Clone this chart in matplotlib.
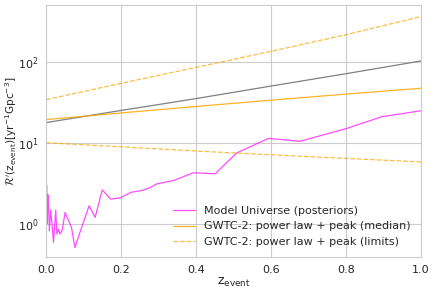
import numpy as np
import matplotlib
matplotlib.use("Agg")
import matplotlib.pyplot as plt
import seaborn as sns

sns.set_style("whitegrid")
plt.rcParams['font.family'] = ['DejaVu Sans']
plt.rcParams['mathtext.fontset'] = 'dejavusans'

# Model universe (posteriors) rate curve
z_model = [0.002, 0.0035, 0.0045, 0.006, 0.009, 0.0125, 0.016, 0.02, 0.026, 0.029,
           0.034, 0.037, 0.043, 0.051, 0.068, 0.077, 0.092, 0.115, 0.131, 0.150,
           0.172, 0.197, 0.227, 0.255, 0.277, 0.295, 0.34, 0.393, 0.451, 0.508,
           0.593, 0.615, 0.651, 0.677, 0.802, 0.895, 1.0]
r_model = [3.0, 1.0, 2.3, 2.2, 0.82, 1.48, 1.0, 0.59, 1.48, 0.75,
           0.86, 0.75, 0.83, 1.38, 0.9, 0.51, 0.82, 1.67, 1.2, 2.62,
           2.02, 2.08, 2.45, 2.57, 2.78, 3.1, 3.42, 4.26, 4.14, 7.45,
           11.3, 11.1, 10.7, 10.4, 15.0, 20.9, 24.8]

# GWTC-2 power law + peak
z_gw = [0.0, 0.2, 0.4, 0.6, 0.8, 1.0]
r_median = [19.3, 23.3, 28.0, 33.5, 39.8, 47.0]
r_upper = [34.0, 54.0, 85.0, 134.0, 215.0, 360.0]
r_lower = [10.0, 8.9, 7.9, 7.1, 6.4, 5.8]
r_gray = [17.7, 25.0, 35.0, 50.0, 71.0, 102.0]

fig = plt.figure(figsize=(4.36, 2.93), dpi=100)
ax = fig.add_axes([0.1055, 0.123, 0.86, 0.86])

ax.plot(z_model, r_model, color='magenta', alpha=0.7, lw=0.9,
        label='Model Universe (posteriors)')
ax.plot(z_gw, r_gray, color='gray', lw=0.9)
ax.plot(z_gw, r_median, color='orange', alpha=0.85, lw=0.9,
        label='GWTC-2: power law + peak (median)')
ax.plot(z_gw, r_upper, color='orange', alpha=0.75, lw=0.9, ls='--',
        label='GWTC-2: power law + peak (limits)')
ax.plot(z_gw, r_lower, color='orange', alpha=0.75, lw=0.9, ls='--')

ax.set_yscale('log')
ax.set_xlim(0, 1)
ax.set_ylim(0.39, 500)
ax.tick_params(labelsize=8, pad=2)
ax.set_xlabel(r'$\mathrm{z}_{\rm event}$', fontsize=9, labelpad=1)
ax.set_ylabel(r"$\mathcal{R}'(\mathrm{z}_{\rm event})[{\rm yr}^{-1}{\rm Gpc}^{-3}]$",
              fontsize=7.6)
ax.yaxis.set_label_coords(-0.073, 0.5)

ax.legend(loc='lower right', frameon=False, fontsize=8)

plt.savefig('out.png', dpi=100)
